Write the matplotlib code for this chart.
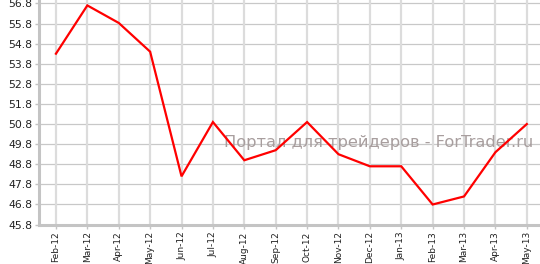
import matplotlib
matplotlib.use("Agg")
import matplotlib.pyplot as plt

months = ["Feb-12", "Mar-12", "Apr-12", "May-12", "Jun-12", "Jul-12", "Aug-12",
          "Sep-12", "Oct-12", "Nov-12", "Dec-12", "Jan-13", "Feb-13", "Mar-13",
          "Apr-13", "May-13"]
values = [54.3, 56.7, 55.83, 54.4, 48.2, 50.9, 49.0, 49.5, 50.9, 49.3, 48.7,
          48.7, 46.8, 47.2, 49.4, 50.8]
yticks = [45.8, 46.8, 47.8, 48.8, 49.8, 50.8, 51.8, 52.8, 53.8, 54.8, 55.8, 56.8]
watermark = "Портал для трейдеров - ForTrader.ru"

W, H = 540, 264
fig = plt.figure(figsize=(W / 100, H / 100), dpi=100)
ax = fig.add_axes([39 / W, (H - 225) / H, (W - 39) / W, 225 / H])

x = list(range(len(months)))
ax.set_xlim(-0.54, 15.42)
ax.set_ylim(45.78, 56.97)

ax.set_xticks(x)
ax.set_xticklabels(months, rotation=90, fontsize=6.5, color="#222222")
ax.set_yticks(yticks)
ax.set_yticklabels([f"{v:.1f}" for v in yticks], fontsize=7.8, color="#222222")

for v in yticks:
    ax.axhline(v, color="#c8c8c8", lw=0.9, zorder=1)
for xi in x:
    ax.axvline(xi, color="#dcdcdc", lw=1.6, zorder=1)

ax.plot(x, values, color="#ff0000", lw=1.6, zorder=3, solid_joinstyle="miter")

ax.text((225 + 533) / 2 / W, (H - 143) / H, watermark, transform=fig.transFigure,
        ha="center", va="center", fontsize=11.7, color="#a89e9e", zorder=2)

for s in ["top", "right"]:
    ax.spines[s].set_visible(False)
for s in ["left", "bottom"]:
    ax.spines[s].set_color("#c4c4c4")
    ax.spines[s].set_linewidth(2.2)
ax.tick_params(axis="x", length=3, width=1, color="#c4c4c4", pad=1.5)
ax.tick_params(axis="y", length=3, width=1, color="#c4c4c4", pad=2)

fig.savefig("out.png", dpi=100)
